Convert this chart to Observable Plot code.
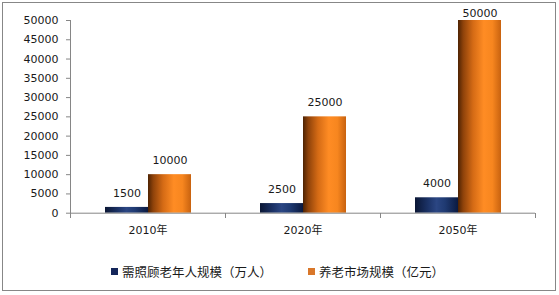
<!DOCTYPE html>
<html>
<head>
<meta charset="utf-8">
<script src="https://cdn.jsdelivr.net/npm/d3@7"></script>
<script src="https://cdn.jsdelivr.net/npm/@observablehq/plot@0.6"></script>
<style>
  html, body { margin: 0; padding: 0; background: #fff; }
  #wrap { position: relative; width: 559px; height: 295px; overflow: hidden; font-family: "DejaVu Sans", "Noto Sans CJK SC", sans-serif; }
  #frame { position: absolute; left: 2px; top: 2px; width: 552px; height: 287px; border: 1px solid #878787; pointer-events: none; }
  #chart { position: absolute; left: 0; top: 0; }
  .leg { position: absolute; top: 263px; height: 16px; display: flex; align-items: center; font-size: 12.5px; color: #1a1a1a; font-family: "Noto Sans CJK SC", "DejaVu Sans", sans-serif; white-space: nowrap; }
  .sw { width: 7px; height: 7px; margin-right: 4px; }
</style>
</head>
<body>
<div id="wrap">
  <div id="chart"></div>
  <div id="legend"></div>
  <div id="frame"></div>
</div>
<script>
const years = ["2010年", "2020年", "2050年"];
const seriesNames = ["需照顾老年人规模（万人）", "养老市场规模（亿元）"];
const elderly = [1500, 2500, 4000];
const market = [10000, 25000, 50000];
const yTicks = [0, 5000, 10000, 15000, 20000, 25000, 30000, 35000, 40000, 45000, 50000];
const yMax = 50000;
const seriesColors = ["#14265a", "#d9772a"];
const gradientIds = ["gNavy", "gOrange"];

const data = years.flatMap((yr, i) => [
  { year: yr, series: seriesNames[0], value: elderly[i] },
  { year: yr, series: seriesNames[1], value: market[i] }
]);

const plot = Plot.plot({
  width: 559,
  height: 250,
  marginLeft: 69,
  marginRight: 24,
  marginTop: 20,
  marginBottom: 37.3,
  style: { fontFamily: "'DejaVu Sans', 'Noto Sans CJK SC', sans-serif", fontSize: "11px", color: "#1a1a1a", background: "transparent" },
  fx: { domain: years, padding: 0, axis: "bottom", tickSize: 0, tickPadding: 13, label: null },
  x: { domain: seriesNames, axis: null, paddingInner: 0, paddingOuter: 0.765 },
  y: { domain: [0, yMax], ticks: yTicks, tickSize: 4, tickPadding: 8, tickFormat: "d", label: null },
  color: { domain: seriesNames, range: gradientIds.map(id => `url(#${id})`) },
  marks: [
    Plot.barY(data, { fx: "year", x: "series", y: "value", fill: "series" }),
    Plot.text(data, { filter: d => d.value < yMax, fx: "year", x: "series", y: "value", text: d => String(d.value), dy: -14, fill: "#1a1a1a" }),
    Plot.text(data, { filter: d => d.value >= yMax, fx: "year", x: "series", y: "value", text: d => String(d.value), dy: -7, fill: "#1a1a1a" }),
    Plot.ruleY([0], { stroke: "#868686" })
  ]
});

// gradients
const svg = d3.select(plot);
const defs = svg.insert("defs", ":first-child");
const g1 = defs.append("linearGradient").attr("id", "gNavy").attr("x1", 0).attr("x2", 1).attr("y1", 0).attr("y2", 0);
[[0, "#0a1634"], [0.3, "#1b3266"], [0.5, "#2b4683"], [0.7, "#1f3a72"], [1, "#0b1a40"]].forEach(([o, c]) => g1.append("stop").attr("offset", o).attr("stop-color", c));
const g2 = defs.append("linearGradient").attr("id", "gOrange").attr("x1", 0).attr("x2", 1).attr("y1", 0).attr("y2", 0);
[[0, "#4e2303"], [0.12, "#8e420a"], [0.35, "#d56b15"], [0.6, "#ff8c24"], [0.8, "#f7861f"], [1, "#c8620f"]].forEach(([o, c]) => g2.append("stop").attr("offset", o).attr("stop-color", c));

// axis lines and category boundary ticks derived from scales
const fx = plot.scale("fx");
const y = plot.scale("y");
const y0 = y.apply(0), yTop = y.apply(yMax);
const left = fx.apply(years[0]);
const bw = fx.bandwidth;
const axes = svg.append("g").attr("stroke", "#868686").attr("shape-rendering", "crispEdges");
axes.append("line").attr("x1", left).attr("x2", left).attr("y1", yTop).attr("y2", y0);
for (let i = 0; i <= years.length; i++) {
  const xb = left + i * bw;
  axes.append("line").attr("x1", xb).attr("x2", xb).attr("y1", y0).attr("y2", y0 + 5);
}
svg.selectAll("g[aria-label='y-axis tick'] path, g[aria-label='y-axis tick'] line").attr("stroke", "#868686");

document.getElementById("chart").appendChild(plot);

// legend
const legend = document.getElementById("legend");
const legLeft = [111, 308];
seriesNames.forEach((name, i) => {
  const item = document.createElement("div");
  item.className = "leg";
  item.style.left = legLeft[i] + "px";
  item.innerHTML = `<div class="sw" style="background:${seriesColors[i]}"></div><span>${name}</span>`;
  legend.appendChild(item);
});
</script>
</body>
</html>
